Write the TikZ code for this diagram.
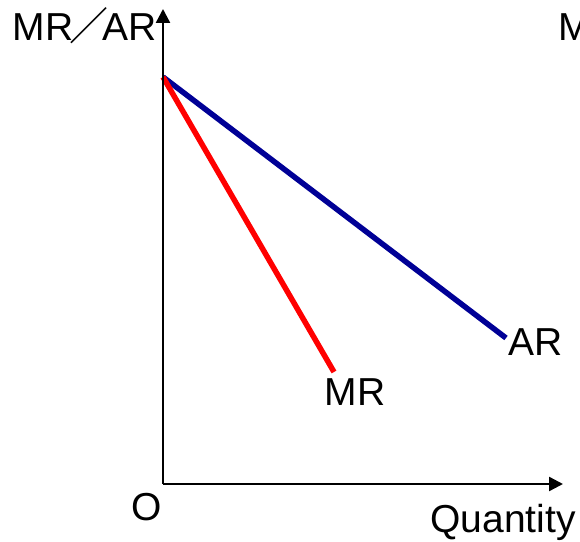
\documentclass[tikz,border=0pt]{standalone}
\usepackage{fontspec}
\setmainfont{Liberation Sans}
\newfontfamily\cjk{Noto Sans CJK JP}
\usetikzlibrary{arrows.meta, positioning}
\definecolor{arblue}{RGB}{0,0,150}
\definecolor{mrred}{RGB}{255,0,0}

\begin{document}
\begin{tikzpicture}[
  x=1pt, y=1pt,
  axis/.style={line width=2.4pt, -{Triangle[length=14pt, width=14pt]}},
  curve/.style={line width=5.5pt},
  lbl/.style={font=\fontsize{39}{41}\selectfont, inner sep=0pt}
]
\clip (0,0) rectangle (580,541);
% axes and the two lines
\coordinate (O) at (163,57);
\coordinate (ytip) at (163,532);
\coordinate (xtip) at (563,57);
\coordinate (top) at (163,464);
\coordinate (arend) at (506,203);
\coordinate (mrend) at (334,169);
\draw[curve, arblue] (top) -- (arend);
\draw[curve, mrred] (top) -- (mrend);
\draw[axis] (O) -- (ytip);
\draw[axis] (O) -- (xtip);
% labels
\node[lbl, anchor=base east] (ylbl) at (157,500) {MR\kern-4pt{\cjk ／}\kern-6pt AR};
\node[lbl, anchor=base west] (mclbl) at (558,500) {M};
\node[lbl, right=2pt of arend, yshift=-4pt] (arlbl) {AR};
\node[lbl, below=6pt of mrend, xshift=21pt] (mrlbl) {MR};
\node[lbl, below left=9pt and 1pt of O] (olbl) {O};
\node[lbl, anchor=north east] (xlbl) at (576,37) {Quantity};
\end{tikzpicture}
\end{document}
